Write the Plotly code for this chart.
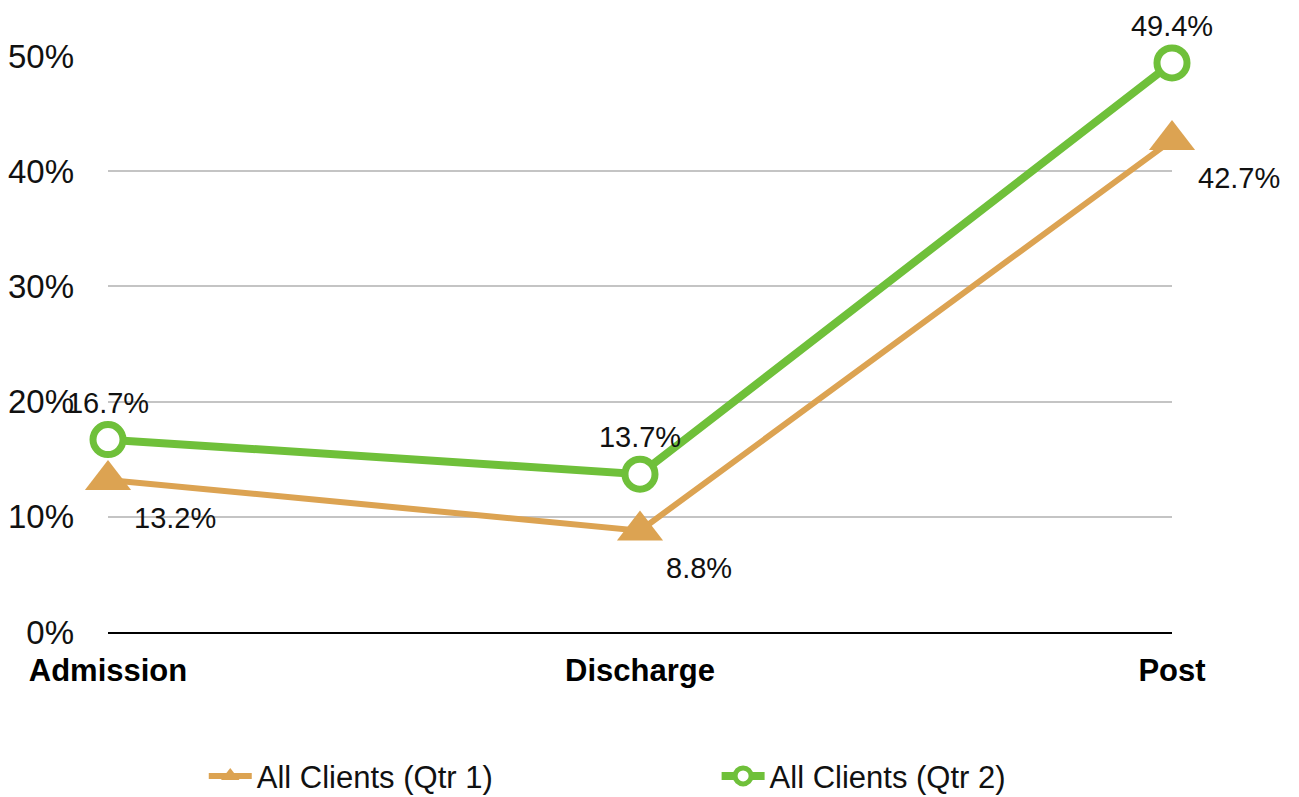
import plotly.graph_objects as go

categories = ["Admission", "Discharge", "Post"]
qtr1 = [13.2, 8.8, 42.7]
qtr2 = [16.7, 13.7, 49.4]
names = ["All Clients (Qtr 1)", "All Clients (Qtr 2)"]
ytick_vals = [0, 10, 20, 30, 40, 50]
ytick_text = ["0%", "10%", "20%", "30%", "40%", "50%"]

orange = "#DCA352"
green = "#6FC03A"
font = "Liberation Sans, Arial, Helvetica, sans-serif"

fig = go.Figure()
fig.add_trace(go.Scatter(
    x=categories, y=qtr1, name=names[0], mode="lines+markers+text",
    line=dict(color=orange, width=6),
    marker=dict(symbol="triangle-up", size=40, color=orange),
    text=[f"{v:.1f}%" for v in qtr1],
    textposition="bottom right",
    textfont=dict(size=29, color="#111111", family=font),
    cliponaxis=False, legend="legend",
))
fig.add_trace(go.Scatter(
    x=categories, y=qtr2, name=names[1], mode="lines+markers+text",
    line=dict(color=green, width=8),
    marker=dict(symbol="circle", size=30, color="white", line=dict(color=green, width=7)),
    text=[f"{v:.1f}%" for v in qtr2],
    textposition="top center",
    textfont=dict(size=29, color="#111111", family=font),
    cliponaxis=False, legend="legend2",
))

leg_common = dict(orientation="h", yref="container", yanchor="middle", y=0.026,
                  xanchor="left", itemwidth=43,
                  font=dict(size=31, family=font, color="#111111"),
                  bgcolor="rgba(0,0,0,0)")
fig.update_layout(
    width=1299, height=797,
    margin=dict(l=108, r=127, t=56, b=165),
    plot_bgcolor="white", paper_bgcolor="white",
    font=dict(family=font, size=26, color="#111111"),
    showlegend=True,
    legend=dict(x=0.09, **leg_common),
    legend2=dict(x=0.572, **leg_common),
)
fig.update_xaxes(
    type="category", range=[0, 2], showgrid=False,
    showline=True, linecolor="black", linewidth=2,
    ticks="", tickfont=dict(size=31, family=font, color="black", weight="bold"),
    ticklabelstandoff=10, zeroline=False, automargin=False,
)
fig.update_yaxes(
    range=[0, 50], tickvals=ytick_vals, ticktext=ytick_text,
    showgrid=True, gridcolor="#C4C4C4", gridwidth=2,
    zeroline=False, showline=False, ticks="",
    tickfont=dict(size=33, family=font, color="#111111"),
    ticklabelstandoff=33, automargin=False,
)

fig.write_html("out.html")
